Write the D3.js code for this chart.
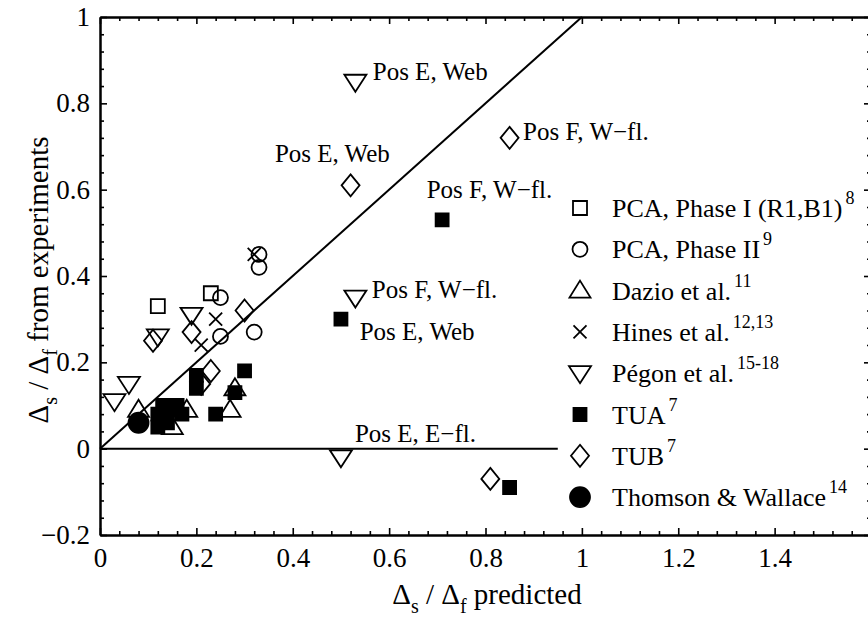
<!DOCTYPE html>
<html>
<head>
<meta charset="utf-8">
<script src="https://cdn.jsdelivr.net/npm/d3@7"></script>
<style>
  body { margin: 0; background: #fff; }
  svg { display: block; font-family: "Liberation Serif", "Times New Roman", serif; }
</style>
</head>
<body>
<svg id="chart" width="868" height="628"></svg>
<script>
// values (x = predicted, y = from experiments)
var pcaI    = [[0.12, 0.33], [0.23, 0.36]];
var pcaII   = [[0.33, 0.45], [0.33, 0.42], [0.25, 0.35], [0.32, 0.27], [0.25, 0.26]];
var dazio   = [[0.08, 0.09], [0.15, 0.05], [0.18, 0.09], [0.27, 0.09], [0.28, 0.14]];
var hines   = [[0.32, 0.45], [0.24, 0.30], [0.21, 0.24]];
var pegon   = [[0.53, 0.85], [0.53, 0.35], [0.50, -0.02], [0.19, 0.31], [0.12, 0.26], [0.06, 0.15], [0.03, 0.11]];
var tua     = [[0.71, 0.53], [0.50, 0.30], [0.85, -0.09], [0.30, 0.18], [0.20, 0.17], [0.20, 0.14], [0.28, 0.13],
               [0.24, 0.08], [0.12, 0.05], [0.12, 0.08], [0.13, 0.10], [0.15, 0.09], [0.16, 0.10], [0.17, 0.08], [0.14, 0.06]];
var tub     = [[0.85, 0.72], [0.52, 0.61], [0.30, 0.32], [0.19, 0.27], [0.11, 0.25], [0.23, 0.18], [0.21, 0.15], [0.81, -0.07]];
var thomson = [[0.08, 0.06]];

var legendNames = ["PCA, Phase I (R1,B1)", "PCA, Phase II", "Dazio et al.", "Hines et al.",
                   "Pégon et al.", "TUA", "TUB", "Thomson & Wallace"];
var legendRefs  = ["8", "9", "11", "12,13", "15-18", "7", "7", "14"];

// annotation text and where it sits (data units)
var noteText = ["Pos E, Web", "Pos F, W\u2212fl.", "Pos E, Web", "Pos F, W\u2212fl.", "Pos F, W\u2212fl.", "Pos E, Web", "Pos E, E\u2212fl."];
var noteX    = [0.566, 0.878, 0.363, 0.678, 0.564, 0.539, 0.529];
var noteY    = [0.854, 0.715, 0.664, 0.580, 0.349, 0.251, 0.015];

var xMajor = [0, 0.2, 0.4, 0.6, 0.8, 1, 1.2, 1.4, 1.6];
var yMajor = [-0.2, 0, 0.2, 0.4, 0.6, 0.8, 1];

var svg = d3.select("#chart");
var plotLeft = 100, plotRight = 871, plotTop = 17, plotBottom = 535;

var x = d3.scaleLinear().domain([0, 1.6]).range([plotLeft, plotRight]);
var y = d3.scaleLinear().domain([-0.2, 1]).range([plotBottom, plotTop]);

var xMinor = d3.range(0, 1.6001, 0.04).filter(function(v) { return Math.abs(v / 0.2 - Math.round(v / 0.2)) > 1e-6; });
var yMinor = d3.range(-0.2, 1.0001, 0.04).filter(function(v) { return Math.abs(v / 0.2 - Math.round(v / 0.2)) > 1e-6; });

function fmt(v) { return v < 0 ? "\u2212" + (+(-v).toFixed(2)) : "" + (+v.toFixed(2)); }

// axes, ticks pointing inward
function drawAxis(axis, tx, ty, labels) {
  var g = svg.append("g").attr("transform", "translate(" + tx + "," + ty + ")").call(axis);
  g.select(".domain").attr("stroke-width", 2);
  g.selectAll(".tick line").attr("stroke-width", 1.6);
  g.selectAll("text").attr("font-size", 27).attr("fill", "#000").attr("font-family", "Liberation Serif, serif");
  if (!labels) g.selectAll("text").remove();
  return g;
}

drawAxis(d3.axisBottom(x).tickValues(xMajor.slice(0, 8)).tickSize(-7).tickSizeOuter(0).tickPadding(13).tickFormat(fmt), 0, plotBottom, true);
drawAxis(d3.axisBottom(x).tickValues(xMinor).tickSize(-4).tickSizeOuter(0).tickFormat(""), 0, plotBottom, false);
drawAxis(d3.axisTop(x).tickValues(xMajor).tickSize(-7).tickSizeOuter(0).tickFormat(""), 0, plotTop, false);
drawAxis(d3.axisTop(x).tickValues(xMinor).tickSize(-4).tickSizeOuter(0).tickFormat(""), 0, plotTop, false);
drawAxis(d3.axisLeft(y).tickValues(yMajor).tickSize(-7).tickSizeOuter(0).tickPadding(10).tickFormat(fmt), plotLeft, 0, true);
drawAxis(d3.axisLeft(y).tickValues(yMinor).tickSize(-4).tickSizeOuter(0).tickFormat(""), plotLeft, 0, false);
drawAxis(d3.axisRight(y).tickValues(yMajor).tickSize(-7).tickSizeOuter(0).tickFormat(""), plotRight, 0, false);
drawAxis(d3.axisRight(y).tickValues(yMinor).tickSize(-4).tickSizeOuter(0).tickFormat(""), plotRight, 0, false);

// reference lines
svg.append("line").attr("x1", x(0)).attr("y1", y(0)).attr("x2", x(1)).attr("y2", y(1))
  .attr("stroke", "#000").attr("stroke-width", 2);
svg.append("line").attr("x1", x(0)).attr("y1", y(0)).attr("x2", x(0.95)).attr("y2", y(0))
  .attr("stroke", "#000").attr("stroke-width", 2);

// marker shapes
var shapes = {
  square:   { d: "M-7,-7h14v14h-14Z", fill: "none" },
  circle:   { d: "M7.5,0A7.5,7.5 0 1 1 -7.5,0A7.5,7.5 0 1 1 7.5,0Z", fill: "none" },
  triUp:    { d: "M0,-10L10.5,7L-10.5,7Z", fill: "none" },
  cross:    { d: "M-6.5,-6.5L6.5,6.5M-6.5,6.5L6.5,-6.5", fill: "none" },
  triDown:  { d: "M0,10L11,-7L-11,-7Z", fill: "none" },
  fsquare:  { d: "M-6.5,-6.5h13v13h-13Z", fill: "#000" },
  diamond:  { d: "M0,-11L9,0L0,11L-9,0Z", fill: "none" },
  fcircle:  { d: "M10,0A10,10 0 1 1 -10,0A10,10 0 1 1 10,0Z", fill: "#000" }
};

var series = [
  { data: pegon, shape: "triDown" },
  { data: pcaI, shape: "square" },
  { data: pcaII, shape: "circle" },
  { data: hines, shape: "cross" },
  { data: tua, shape: "fsquare" },
  { data: dazio, shape: "triUp" },
  { data: tub, shape: "diamond" },
  { data: thomson, shape: "fcircle" }
];

series.forEach(function(s) {
  var sh = shapes[s.shape];
  svg.append("g").selectAll("path").data(s.data).enter().append("path")
    .attr("d", sh.d)
    .attr("transform", function(d) { return "translate(" + x(d[0]) + "," + y(d[1]) + ")"; })
    .attr("fill", sh.fill)
    .attr("stroke", "#000")
    .attr("stroke-width", 1.8);
});

// annotations
svg.append("g").selectAll("text").data(noteText).enter().append("text")
  .attr("x", function(d, i) { return x(noteX[i]); })
  .attr("y", function(d, i) { return y(noteY[i]); })
  .attr("font-size", 25)
  .text(function(d) { return d; });

// legend
var legendShapes = ["square", "circle", "triUp", "cross", "triDown", "fsquare", "diamond", "fcircle"];
var lg = svg.append("g");
legendNames.forEach(function(name, i) {
  var ry = 208 + i * 41.3;
  var sh = shapes[legendShapes[i]];
  lg.append("path").attr("d", sh.d).attr("transform", "translate(580," + ry + ")")
    .attr("fill", sh.fill).attr("stroke", "#000").attr("stroke-width", 1.8);
  var t = lg.append("text").attr("x", 612).attr("y", ry + 9).attr("font-size", 26);
  t.append("tspan").text(name);
  t.append("tspan").attr("dx", 3).attr("dy", -13).attr("font-size", 18).text(legendRefs[i]);
});

// axis titles
var xt = svg.append("text").attr("x", 487).attr("y", 604).attr("text-anchor", "middle").attr("font-size", 29);
xt.append("tspan").text("\u0394");
xt.append("tspan").attr("dy", 9).attr("font-size", 20).text("s");
xt.append("tspan").attr("dy", -9).text(" / \u0394");
xt.append("tspan").attr("dy", 9).attr("font-size", 20).text("f");
xt.append("tspan").attr("dy", -9).text(" predicted");

var yt = svg.append("text").attr("transform", "translate(48,280) rotate(-90)").attr("text-anchor", "middle").attr("font-size", 29);
yt.append("tspan").text("\u0394");
yt.append("tspan").attr("dy", 9).attr("font-size", 20).text("s");
yt.append("tspan").attr("dy", -9).text(" / \u0394");
yt.append("tspan").attr("dy", 9).attr("font-size", 20).text("f");
yt.append("tspan").attr("dy", -9).text(" from experiments");
</script>
</body>
</html>
